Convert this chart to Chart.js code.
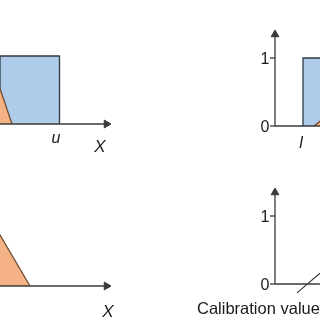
<!DOCTYPE html>
<html><head><meta charset="utf-8">
<script src="https://cdn.jsdelivr.net/npm/chart.js@4"></script>
<style>html,body{margin:0;padding:0;background:#fff}canvas{display:block}</style>
</head><body>
<canvas id="c" width="320" height="320"></canvas>
<script>
// ---- data (x in diagram units, y = membership degree) ----
const tlIntervalX = [0, 0, 59.5, 59.5];
const tlIntervalMu = [0, 1, 1, 0];
const tlFuzzyX = [-40, -11, 12];
const tlFuzzyMu = [0, 1, 0];
const trIntervalX = [303, 303, 340];
const trIntervalMu = [0, 1, 1];
const trFuzzyX = [314, 345];
const trFuzzyMu = [0, 0.35];
const blFuzzyX = [-40, -10, 30];
const blFuzzyMu = [0, 1, 0];
const brLineX = [297, 320];
const brLineMu = [-0.13, 0.16];
const tickValues = [0, 1];
const tickLabels = ['0', '1'];
const axisTextLeft = ['u', 'X'];
const axisTextRight = ['l', 'Calibration value'];

// ---- layout ----
const W = 320;
const panels = { yTL: [124, 56], yTR: [126, 58], yBL: [286, 218], yBR: [284, 216] };
function yScale(id) {
  const [p0, p1] = panels[id];
  const unit = p0 - p1;
  const max = p0 / unit;
  return { type: 'linear', axis: 'y', display: false, min: max - W / unit, max: max };
}
const pts = (xs, ys) => xs.map((x, i) => ({ x, y: ys[i] }));
const AX = '#3a3a3a';
const BLUE = 'rgb(174,203,234)';
const ORANGE = 'rgb(245,178,132)';
const BROWN = '#6e4a30';
const RECT = '#2f3a46';

function shape(xs, ys, axis, fillC, lineC, order) {
  return { data: pts(xs, ys), yAxisID: axis, showLine: true, fill: 'origin', backgroundColor: fillC,
    borderColor: lineC, borderWidth: 1.3, pointRadius: 0, tension: 0, order };
}
function hAxis(x0, x1, axis, arrow) {
  return { data: [{ x: x0, y: 0 }, { x: x1, y: 0 }], yAxisID: axis, showLine: true, fill: false,
    borderColor: AX, borderWidth: 1.3, pointRadius: [0, arrow ? 4.5 : 0], pointStyle: 'triangle',
    pointRotation: 90, pointBackgroundColor: AX, pointBorderColor: AX, pointBorderWidth: 1, order: 1 };
}
function vAxis(x, top, axis) {
  return { data: [{ x, y: 0 }, { x, y: top }], yAxisID: axis, showLine: true, fill: false,
    borderColor: AX, borderWidth: 1.3, pointRadius: [0, 4.5], pointStyle: 'triangle',
    pointRotation: 0, pointBackgroundColor: AX, pointBorderColor: AX, pointBorderWidth: 1, order: 1 };
}
function ticks(x, axis) {
  return { data: tickValues.map(v => ({ x, y: v })), yAxisID: axis, showLine: false,
    pointStyle: 'line', pointRadius: 2.5, pointBorderColor: AX, pointBorderWidth: 1.3, order: 1 };
}
const muTop = (id, pix) => (panels[id][0] - pix) / (panels[id][0] - panels[id][1]);

const datasets = [
  shape(tlIntervalX, tlIntervalMu, 'yTL', BLUE, RECT, 5),
  shape(tlFuzzyX, tlFuzzyMu, 'yTL', ORANGE, BROWN, 4),
  hAxis(0, 106.5, 'yTL', true),
  shape(trIntervalX, trIntervalMu, 'yTR', BLUE, RECT, 5),
  shape(trFuzzyX, trFuzzyMu, 'yTR', ORANGE, BROWN, 4),
  hAxis(275, 330, 'yTR', false),
  vAxis(275, muTop('yTR', 34.5), 'yTR'),
  ticks(272.5, 'yTR'),
  shape(blFuzzyX, blFuzzyMu, 'yBL', ORANGE, BROWN, 4),
  hAxis(0, 106.5, 'yBL', true),
  { data: pts(brLineX, brLineMu), yAxisID: 'yBR', showLine: true, fill: false, borderColor: AX,
    borderWidth: 1.2, pointRadius: 0, order: 2 },
  hAxis(275, 330, 'yBR', false),
  vAxis(275, muTop('yBR', 192.5), 'yBR'),
  ticks(272.5, 'yBR')
];

const F = '"Liberation Sans", Arial, sans-serif';
const labels = [
  { t: axisTextLeft[0], x: 56, mu: -0.284, s: 'yTL', font: 'italic 16px ' + F, align: 'center' },
  { t: axisTextLeft[1], x: 100, mu: -0.407, s: 'yTL', font: 'italic 17px ' + F, align: 'center' },
  { t: axisTextRight[0], x: 301, mu: -0.324, s: 'yTR', font: 'italic 16px ' + F, align: 'center' },
  { t: axisTextLeft[1], x: 108, mu: -0.456, s: 'yBL', font: 'italic 17px ' + F, align: 'center' },
  { t: axisTextRight[1], x: 197, mu: -0.441, s: 'yBR', font: '16.5px ' + F, align: 'left' }
];

const textPlugin = {
  id: 'texts',
  afterDatasetsDraw(chart) {
    const ctx = chart.ctx, xs = chart.scales.x;
    ctx.save();
    ctx.fillStyle = '#1a1a1a';
    ctx.textBaseline = 'alphabetic';
    labels.forEach(l => {
      ctx.font = l.font; ctx.textAlign = l.align;
      ctx.fillText(l.t, xs.getPixelForValue(l.x), chart.scales[l.s].getPixelForValue(l.mu));
    });
    ctx.font = '16px ' + F; ctx.textAlign = 'right';
    ['yTR', 'yBR'].forEach(s => {
      tickValues.forEach((v, i) => {
        ctx.fillText(tickLabels[i], xs.getPixelForValue(269.5), chart.scales[s].getPixelForValue(v) + 5.5);
      });
    });
    ctx.restore();
  }
};

new Chart(document.getElementById('c'), {
  type: 'scatter',
  data: { datasets },
  options: {
    responsive: false, animation: false,
    layout: { padding: 0, autoPadding: false },
    plugins: { legend: { display: false }, tooltip: { enabled: false } },
    scales: {
      x: { type: 'linear', display: false, min: 0, max: W },
      yTL: yScale('yTL'), yTR: yScale('yTR'), yBL: yScale('yBL'), yBR: yScale('yBR')
    }
  },
  plugins: [textPlugin]
});
</script>
</body></html>
